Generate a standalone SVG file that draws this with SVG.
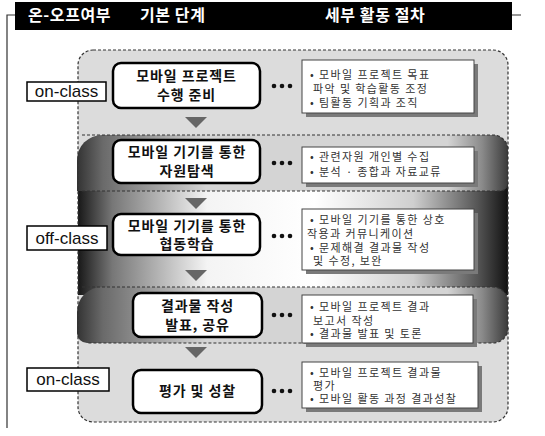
<svg xmlns="http://www.w3.org/2000/svg" width="545" height="436" viewBox="0 0 545 436">
<defs>
<linearGradient id="gA" x1="0" y1="0" x2="1" y2="0">
<stop offset="0" stop-color="#333"/><stop offset="0.06" stop-color="#6a6a6a"/><stop offset="0.3" stop-color="#d4d4d4"/><stop offset="0.86" stop-color="#d4d4d4"/><stop offset="0.94" stop-color="#8a8a8a"/><stop offset="1" stop-color="#3a3a3a"/>
</linearGradient>
<linearGradient id="gB" x1="0" y1="0" x2="1" y2="0">
<stop offset="0" stop-color="#181818"/><stop offset="0.08" stop-color="#777"/><stop offset="0.3" stop-color="#f4f4f4"/><stop offset="0.55" stop-color="#ffffff"/><stop offset="0.78" stop-color="#cfcfcf"/><stop offset="0.93" stop-color="#555"/><stop offset="1" stop-color="#111111"/>
</linearGradient>
</defs>
<style>
.hdr{font-family:"Noto Sans CJK KR","Liberation Sans",sans-serif;font-size:16px;font-weight:bold;fill:#fff;letter-spacing:0.6px}
.dash{fill:none;stroke:#333;stroke-width:1.2;stroke-dasharray:3 2}
.step{fill:#fff;stroke:#000;stroke-width:2.5}
.st{font-family:"Noto Sans CJK KR","Liberation Sans",sans-serif;font-size:14px;font-weight:bold;fill:#111;text-anchor:middle;letter-spacing:0.9px}
.lab{fill:#fff;stroke:#000;stroke-width:1.5}
.lt{font-family:"Liberation Sans","Noto Sans CJK KR",sans-serif;font-size:17px;fill:#111;text-anchor:middle}
.rb{fill:#fff;stroke:#444;stroke-width:1}
.sh{fill:#7a7a7a}
.rt{font-family:"Noto Sans CJK KR","Liberation Sans",sans-serif;font-size:11px;fill:#333;letter-spacing:1.4px}
.tri{fill:#666}
.dot{fill:#111}
</style>
<g id="header">
<path d="M7 428 V15 H15 M512 15 H521" fill="none" stroke="#333" stroke-width="1.2"/>
<rect x="15" y="2" width="497" height="28" fill="#000"/>
<text class="hdr" x="28" y="21">온-오프여부</text>
<text class="hdr" x="140" y="21">기본 단계</text>
<text class="hdr" x="325" y="21">세부 활동 절차</text>
</g>
<g id="panels">
<rect x="78" y="50" width="430" height="372" rx="15" fill="#dcdcdc"/>
<rect x="78" y="180" width="430" height="115" fill="url(#gB)"/>
<path d="M77 191 V160 A25 25 0 0 1 102 135 H493 A15 15 0 0 1 508 150 V183 A8 8 0 0 1 500 191 Z" fill="url(#gA)"/>
<path d="M77 333 V312 A25 25 0 0 1 102 287 H493 A15 15 0 0 1 508 302 V328 A15 15 0 0 1 493 343 H87 A10 10 0 0 1 77 333 Z" fill="url(#gA)"/>
<path class="dash" d="M82 135 H493 A15 15 0 0 1 508 150 M82 191 H500 A8 8 0 0 0 508 183"/>
<path class="dash" d="M82 287 H493 A15 15 0 0 1 508 302 M508 328 A15 15 0 0 1 493 343 H87"/>
<rect class="dash" x="78" y="50" width="430" height="372" rx="15"/>
</g>
<g id="connectors">
<polygon class="tri" points="185,117 207,117 196,128"/>
<polygon class="tri" points="185,198 207,198 196,209"/>
<polygon class="tri" points="185,270 207,270 196,281"/>
<polygon class="tri" points="185,347 207,347 196,358"/>
<g class="dot">
<circle cx="274" cy="86" r="2.3"/><circle cx="282" cy="86" r="2.3"/><circle cx="290" cy="86" r="2.3"/>
<circle cx="274" cy="163" r="2.3"/><circle cx="282" cy="163" r="2.3"/><circle cx="290" cy="163" r="2.3"/>
<circle cx="274" cy="236" r="2.3"/><circle cx="282" cy="236" r="2.3"/><circle cx="290" cy="236" r="2.3"/>
<circle cx="274" cy="315" r="2.3"/><circle cx="282" cy="315" r="2.3"/><circle cx="290" cy="315" r="2.3"/>
<circle cx="274" cy="391" r="2.3"/><circle cx="282" cy="391" r="2.3"/><circle cx="290" cy="391" r="2.3"/>
</g>
</g>
<g id="label1"><rect class="lab" x="27" y="82" width="79" height="19"/><text class="lt" x="66.5" y="97">on-class</text></g>
<g id="label2"><rect class="lab" x="27" y="226" width="80" height="24"/><text class="lt" x="67" y="244">off-class</text></g>
<g id="label3"><rect class="lab" x="27" y="368" width="82" height="23"/><text class="lt" x="68" y="385">on-class</text></g>
<g id="step1"><rect class="step" x="113" y="63" width="147" height="45" rx="8"/><text class="st" x="186.5" y="81">모바일 프로젝트</text><text class="st" x="186.5" y="100">수행 준비</text></g>
<g id="step2"><rect class="step" x="113" y="140" width="147" height="43" rx="8"/><text class="st" x="187" y="157">모바일 기기를 통한</text><text class="st" x="187" y="176">자원탐색</text></g>
<g id="step3"><rect class="step" x="113" y="214" width="147" height="41" rx="8"/><text class="st" x="187" y="231">모바일 기기를 통한</text><text class="st" x="187" y="249">협동학습</text></g>
<g id="step4"><rect class="step" x="133" y="293" width="129" height="44" rx="8"/><text class="st" x="197.5" y="311">결과물 작성</text><text class="st" x="197.5" y="330">발표, 공유</text></g>
<g id="step5"><rect class="step" x="133" y="370" width="129" height="43" rx="8"/><text class="st" x="197.5" y="396">평가 및 성찰</text></g>
<g id="detail1"><rect class="sh" x="306" y="64" width="172" height="53"/><rect class="rb" x="302" y="60" width="172" height="53"/>
<text class="rt" x="310" y="79">• 모바일 프로젝트 목표</text><text class="rt" x="313" y="93">파악 및 학습활동 조정</text><text class="rt" x="310" y="107">• 팀활동 기획과 조직</text></g>
<g id="detail2"><rect class="sh" x="306" y="151" width="172" height="36"/><rect class="rb" x="302" y="147" width="172" height="36"/>
<text class="rt" x="310" y="161">• 관련자원 개인별 수집</text><text class="rt" x="310" y="176">• 분석 · 종합과 자료교류</text></g>
<g id="detail3"><rect class="sh" x="306" y="213" width="172" height="61"/><rect class="rb" x="302" y="209" width="172" height="61"/>
<text class="rt" x="310" y="224">• 모바일 기기를 통한 상호</text><text class="rt" x="307" y="238">작용과 커뮤니케이션</text><text class="rt" x="310" y="252">• 문제해결 결과물 작성</text><text class="rt" x="313" y="265">및 수정, 보완</text></g>
<g id="detail4"><rect class="sh" x="306" y="299" width="171" height="48"/><rect class="rb" x="302" y="295" width="171" height="48"/>
<text class="rt" x="310" y="311">• 모바일 프로젝트 결과</text><text class="rt" x="313" y="325">보고서 작성</text><text class="rt" x="310" y="338">• 결과물 발표 및 토론</text></g>
<g id="detail5"><rect class="sh" x="306" y="366" width="176" height="46"/><rect class="rb" x="302" y="362" width="176" height="46"/>
<text class="rt" x="310" y="377">• 모바일 프로젝트 결과물</text><text class="rt" x="313" y="390">평가</text><text class="rt" x="310" y="403">• 모바일 활동 과정 결과성찰</text></g>
</svg>
